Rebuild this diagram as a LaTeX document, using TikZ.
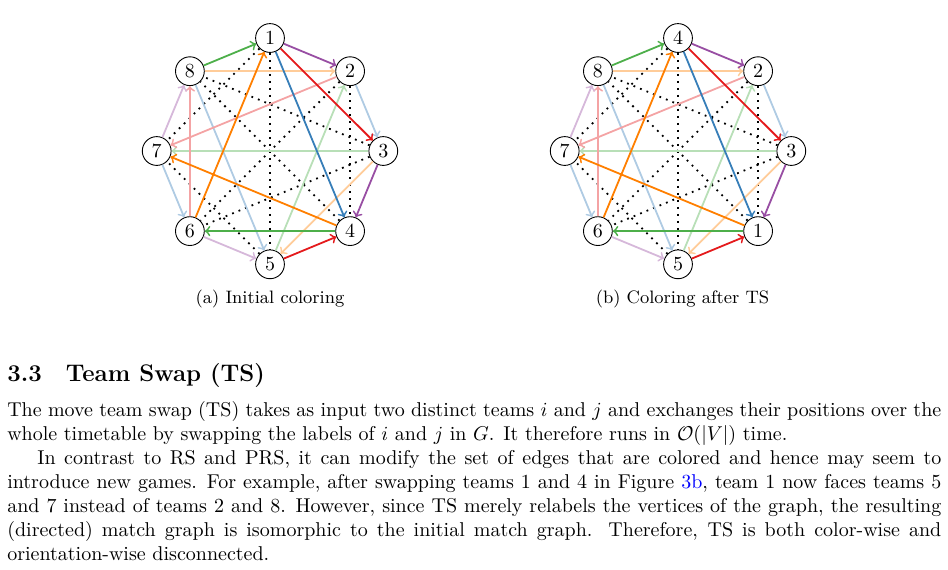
\documentclass[tikz,border=0pt]{standalone}
\usepackage{amsmath}
\definecolor{cgreen}{HTML}{4DAF4A}
\definecolor{cpurple}{HTML}{984EA3}
\definecolor{cred}{HTML}{E41A1C}
\definecolor{cblue}{HTML}{377EB8}
\definecolor{corange}{HTML}{FF7F00}
\definecolor{reflink}{rgb}{0,0,1}
\tikzset{
  team/.style={circle, draw, line width=0.45pt, minimum size=14.4pt, inner sep=0pt, font=\normalsize},
  game/.style={->, line width=0.9pt},
  dk/.style={game, draw=#1},
  lt/.style={game, draw=#1!40},
  nogame/.style={dash pattern=on 0.9pt off 2.6pt, line width=0.9pt, draw=black},
  txt/.style={anchor=base west, inner sep=0pt, outer sep=0pt},
  subcaption/.style={anchor=base, inner sep=0pt, font=\small}
}
\newcommand\drawmatchgraph[1]{%
  \foreach \s/\t in {1/5,1/7,2/4,2/6,3/6,3/8,4/8,5/7} \draw[nogame] (#1\s) -- (#1\t);
  \foreach \s/\t in {2/3,7/6,8/5} \draw[lt=cblue] (#1\s) -- (#1\t);
  \foreach \s/\t in {3/7,5/2} \draw[lt=cgreen] (#1\s) -- (#1\t);
  \foreach \s/\t in {2/7,6/8} \draw[lt=cred] (#1\s) -- (#1\t);
  \foreach \s/\t in {8/2,3/5} \draw[lt=corange] (#1\s) -- (#1\t);
  \foreach \s/\t in {7/8,6/5} \draw[lt=cpurple] (#1\s) -- (#1\t);
  \foreach \s/\t in {8/1,4/6} \draw[dk=cgreen] (#1\s) -- (#1\t);
  \foreach \s/\t in {1/2,3/4} \draw[dk=cpurple] (#1\s) -- (#1\t);
  \foreach \s/\t in {1/3,5/4} \draw[dk=cred] (#1\s) -- (#1\t);
  \foreach \s/\t in {1/4} \draw[dk=cblue] (#1\s) -- (#1\t);
  \foreach \s/\t in {6/1,4/7} \draw[dk=corange] (#1\s) -- (#1\t);
}
\begin{document}
\begin{tikzpicture}[x=0.5pt, y=-0.5pt]
\useasboundingbox (0,0) rectangle (948,569);
% graph (a): node names by position, labels as printed
\node[team] (a1) at (270.0, 38.0) {1};
\node[team] (a2) at (350.1, 71.2) {2};
\node[team] (a3) at (383.3,151.0) {3};
\node[team] (a4) at (350.1,231.1) {4};
\node[team] (a5) at (270.0,264.3) {5};
\node[team] (a6) at (189.9,231.1) {6};
\node[team] (a7) at (156.7,151.0) {7};
\node[team] (a8) at (189.9, 71.2) {8};
\drawmatchgraph{a}
% graph (b): teams 1 and 4 swapped
\node[team] (b1) at (678.0, 38.0) {4};
\node[team] (b2) at (758.1, 71.2) {2};
\node[team] (b3) at (791.3,151.0) {3};
\node[team] (b4) at (758.1,231.1) {1};
\node[team] (b5) at (678.0,264.3) {5};
\node[team] (b6) at (597.9,231.1) {6};
\node[team] (b7) at (564.7,151.0) {7};
\node[team] (b8) at (597.9, 71.2) {8};
\drawmatchgraph{b}
% captions
\node[subcaption] (capa) at (270,303.3) {(a) Initial coloring};
\node[subcaption] (capb) at (682.5,303.3) {(b) Coloring after TS};
% section text
\node[txt, font=\large\bfseries] (head) at (7.3,381.7) {3.3\hspace{1em}Team Swap (TS)};
\node[txt] (l1) at (7.3,416.5) {\hbox to 467pt{The move team swap (TS) takes as input two distinct teams $i$ and $j$ and exchanges their positions over the}};
\node[txt] (l2) at (7.3,440.5) {whole timetable by swapping the labels of $i$ and $j$ in $G$. It therefore runs in $\mathcal{O}(|V|)$ time.};
\node[txt] (l3) at (37.3,464.5) {\hbox to 452pt{In contrast to RS and PRS, it can modify the set of edges that are colored and hence may seem to}};
\node[txt] (l4) at (7.3,488.5) {\hbox to 467pt{introduce new games. For example, after swapping teams 1 and 4 in Figure~\textcolor{reflink}{3b}, team 1 now faces teams 5}};
\node[txt] (l5) at (7.3,512.5) {\hbox to 467pt{and 7 instead of teams 2 and 8. However, since TS merely relabels the vertices of the graph, the resulting}};
\node[txt] (l6) at (7.3,536.5) {\hbox to 467pt{(directed) match graph is isomorphic to the initial match graph.  Therefore, TS is both color-wise and}};
\node[txt] (l7) at (7.3,560.5) {orientation-wise disconnected.};
\end{tikzpicture}
\end{document}
